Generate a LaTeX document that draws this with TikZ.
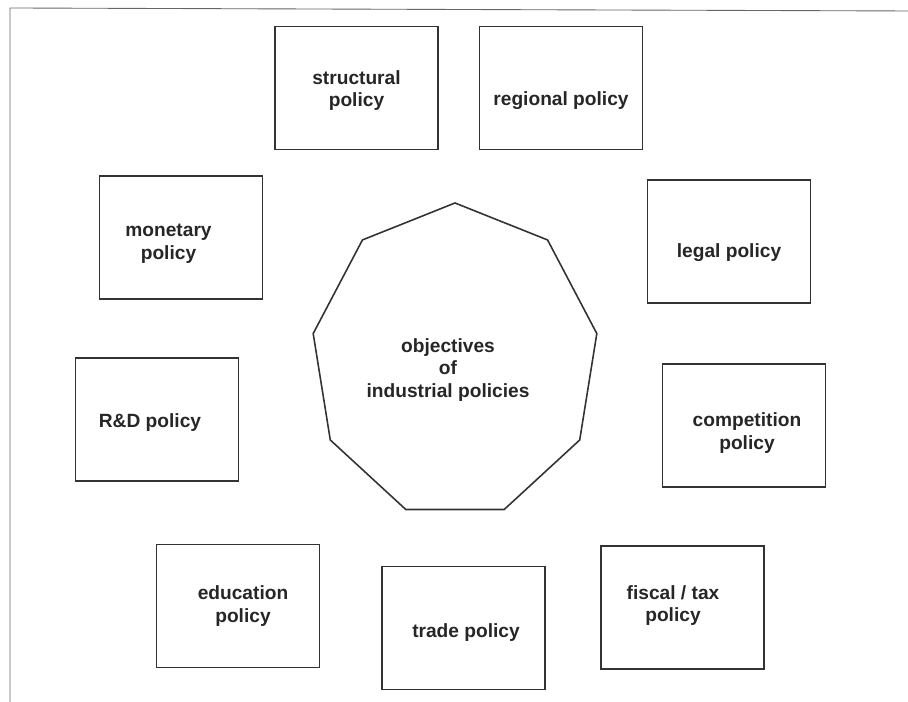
\documentclass[tikz,border=0pt]{standalone}
\usepackage{fontspec}
\setmainfont{Liberation Sans}
\usepackage{tikz}

\tikzset{
    policy/.style={draw=black!80, line width=0.9pt, minimum width=3.26cm, minimum height=2.46cm, inner sep=0pt},
    words/.style={align=center, text=black!85, font=\bfseries\fontsize{10.9}{13}\selectfont},
}

\begin{document}
\begin{tikzpicture}
    \useasboundingbox (0, 0) rectangle (18.16, 14.04);
    \draw [black!60, line width=0.5pt] (0.2, 0) -- (0.2, 13.88) -- (18.16, 13.82);

    \draw [black!80, line width=0.9pt] plot [samples at={90,130,...,410}] ({9.1+2.88*cos(\x)}, {6.82+3.16*sin(\x)}) -- cycle;
    \node [words] (goals) at (8.96, 6.64) {objectives\\of\\industrial policies};

    \node [policy] (structural) at (7.13, 12.28) {};
    \node [policy] (regional) at (11.22, 12.28) {};
    \node [policy] (monetary) at (3.62, 9.29) {};
    \node [policy] (legal) at (14.58, 9.21) {};
    \node [policy] (rd) at (3.14, 5.65) {};
    \node [policy] (competition) at (14.88, 5.53) {};
    \node [policy] (education) at (4.76, 1.92) {};
    \node [policy] (trade) at (9.27, 1.48) {};
    \node [policy] (fiscal) at (13.65, 1.89) {};

    \node [words, yshift=-0.05cm] (structural-t) at (structural) {structural\\policy};
    \node [words, yshift=-0.25cm] (regional-t) at (regional) {regional policy};
    \node [words, xshift=-0.25cm, yshift=-0.12cm] (monetary-t) at (monetary) {monetary\\policy};
    \node [words, yshift=-0.22cm] (legal-t) at (legal) {legal policy};
    \node [words, xshift=-0.14cm, yshift=-0.06cm] (rd-t) at (rd) {R\&D policy};
    \node [words, xshift=0.06cm, yshift=-0.15cm] (competition-t) at (competition) {competition\\policy};
    \node [words, xshift=0.1cm] (education-t) at (education) {education\\policy};
    \node [words, xshift=0.05cm, yshift=-0.1cm] (trade-t) at (trade) {trade policy};
    \node [words, xshift=-0.19cm, yshift=0.04cm] (fiscal-t) at (fiscal) {fiscal / tax\\policy};
\end{tikzpicture}
\end{document}
